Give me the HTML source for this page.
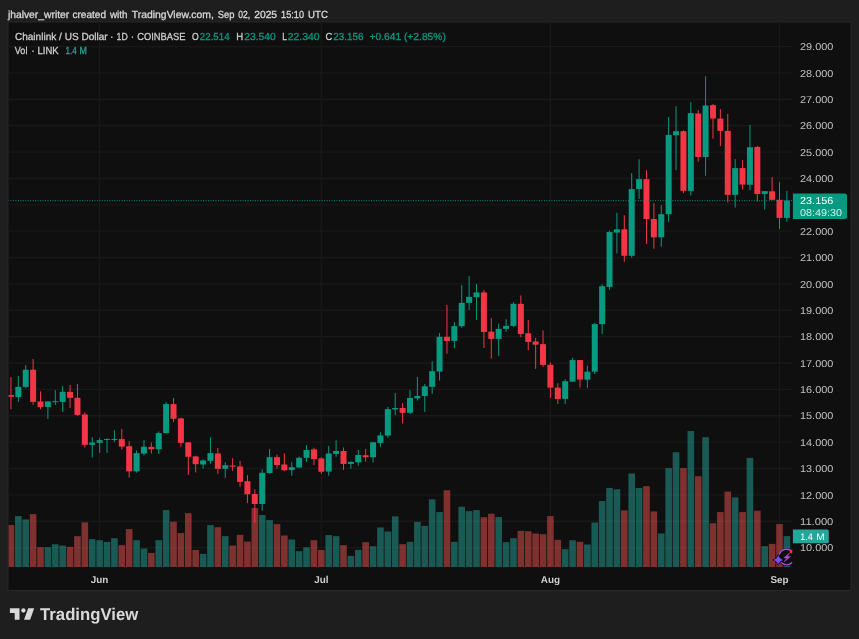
<!DOCTYPE html>
<html lang="en"><head><meta charset="utf-8"><title>LINKUSD chart</title>
<style>html,body{margin:0;padding:0;background:#1e1e1e;}body{width:859px;height:639px;overflow:hidden;font-family:"Liberation Sans",Arial,sans-serif;}</style>
</head><body>
<svg width="859" height="639" viewBox="0 0 859 639" style="display:block" text-rendering="geometricPrecision" font-family="Liberation Sans, Arial, sans-serif">
<rect width="859" height="639" fill="#1e1e1e"/>
<rect x="8.0" y="22.0" width="843.0" height="568.5" fill="#0f0f0f" stroke="#272727" stroke-width="1"/>
<g stroke="#191919" stroke-width="1.3">
<line x1="8.5" x2="792.3" y1="547.60" y2="547.60"/>
<line x1="8.5" x2="792.3" y1="521.23" y2="521.23"/>
<line x1="8.5" x2="792.3" y1="494.86" y2="494.86"/>
<line x1="8.5" x2="792.3" y1="468.49" y2="468.49"/>
<line x1="8.5" x2="792.3" y1="442.12" y2="442.12"/>
<line x1="8.5" x2="792.3" y1="415.75" y2="415.75"/>
<line x1="8.5" x2="792.3" y1="389.38" y2="389.38"/>
<line x1="8.5" x2="792.3" y1="363.01" y2="363.01"/>
<line x1="8.5" x2="792.3" y1="336.64" y2="336.64"/>
<line x1="8.5" x2="792.3" y1="310.27" y2="310.27"/>
<line x1="8.5" x2="792.3" y1="283.90" y2="283.90"/>
<line x1="8.5" x2="792.3" y1="257.53" y2="257.53"/>
<line x1="8.5" x2="792.3" y1="231.16" y2="231.16"/>
<line x1="8.5" x2="792.3" y1="204.79" y2="204.79"/>
<line x1="8.5" x2="792.3" y1="178.42" y2="178.42"/>
<line x1="8.5" x2="792.3" y1="152.05" y2="152.05"/>
<line x1="8.5" x2="792.3" y1="125.68" y2="125.68"/>
<line x1="8.5" x2="792.3" y1="99.31" y2="99.31"/>
<line x1="8.5" x2="792.3" y1="72.94" y2="72.94"/>
<line x1="8.5" x2="792.3" y1="46.57" y2="46.57"/>
<line x1="99.62" x2="99.62" y1="22.5" y2="567.0"/>
<line x1="321.32" x2="321.32" y1="22.5" y2="567.0"/>
<line x1="550.41" x2="550.41" y1="22.5" y2="567.0"/>
<line x1="779.50" x2="779.50" y1="22.5" y2="567.0"/>
</g>
<clipPath id="pc"><rect x="8.6" y="22.6" width="783.6999999999999" height="544.4"/></clipPath>
<g clip-path="url(#pc)">
<rect x="7.64" y="525.07" width="6.6" height="41.93" fill="rgba(239,83,80,0.5)"/>
<rect x="15.03" y="516.10" width="6.6" height="50.90" fill="rgba(38,166,154,0.5)"/>
<rect x="22.42" y="519.45" width="6.6" height="47.55" fill="rgba(38,166,154,0.5)"/>
<rect x="29.81" y="514.10" width="6.6" height="52.90" fill="rgba(239,83,80,0.5)"/>
<rect x="37.20" y="547.16" width="6.6" height="19.84" fill="rgba(239,83,80,0.5)"/>
<rect x="44.59" y="547.16" width="6.6" height="19.84" fill="rgba(38,166,154,0.5)"/>
<rect x="51.98" y="544.22" width="6.6" height="22.78" fill="rgba(38,166,154,0.5)"/>
<rect x="59.37" y="545.56" width="6.6" height="21.44" fill="rgba(38,166,154,0.5)"/>
<rect x="66.76" y="546.89" width="6.6" height="20.11" fill="rgba(239,83,80,0.5)"/>
<rect x="74.15" y="536.18" width="6.6" height="30.82" fill="rgba(239,83,80,0.5)"/>
<rect x="81.54" y="522.40" width="6.6" height="44.60" fill="rgba(239,83,80,0.5)"/>
<rect x="88.93" y="539.13" width="6.6" height="27.87" fill="rgba(38,166,154,0.5)"/>
<rect x="96.32" y="540.20" width="6.6" height="26.80" fill="rgba(38,166,154,0.5)"/>
<rect x="103.71" y="541.94" width="6.6" height="25.06" fill="rgba(38,166,154,0.5)"/>
<rect x="111.10" y="538.19" width="6.6" height="28.81" fill="rgba(38,166,154,0.5)"/>
<rect x="118.49" y="545.15" width="6.6" height="21.85" fill="rgba(239,83,80,0.5)"/>
<rect x="125.88" y="529.09" width="6.6" height="37.91" fill="rgba(239,83,80,0.5)"/>
<rect x="133.27" y="540.20" width="6.6" height="26.80" fill="rgba(38,166,154,0.5)"/>
<rect x="140.66" y="548.50" width="6.6" height="18.50" fill="rgba(38,166,154,0.5)"/>
<rect x="148.05" y="552.92" width="6.6" height="14.08" fill="rgba(239,83,80,0.5)"/>
<rect x="155.44" y="540.20" width="6.6" height="26.80" fill="rgba(38,166,154,0.5)"/>
<rect x="162.83" y="510.08" width="6.6" height="56.92" fill="rgba(38,166,154,0.5)"/>
<rect x="170.22" y="521.73" width="6.6" height="45.27" fill="rgba(239,83,80,0.5)"/>
<rect x="177.61" y="533.11" width="6.6" height="33.89" fill="rgba(239,83,80,0.5)"/>
<rect x="185.00" y="513.16" width="6.6" height="53.84" fill="rgba(239,83,80,0.5)"/>
<rect x="192.39" y="549.97" width="6.6" height="17.03" fill="rgba(239,83,80,0.5)"/>
<rect x="199.78" y="553.86" width="6.6" height="13.14" fill="rgba(38,166,154,0.5)"/>
<rect x="207.17" y="525.07" width="6.6" height="41.93" fill="rgba(38,166,154,0.5)"/>
<rect x="214.56" y="527.22" width="6.6" height="39.78" fill="rgba(239,83,80,0.5)"/>
<rect x="221.95" y="536.18" width="6.6" height="30.82" fill="rgba(38,166,154,0.5)"/>
<rect x="229.34" y="545.56" width="6.6" height="21.44" fill="rgba(239,83,80,0.5)"/>
<rect x="236.73" y="534.85" width="6.6" height="32.15" fill="rgba(239,83,80,0.5)"/>
<rect x="244.12" y="541.54" width="6.6" height="25.46" fill="rgba(239,83,80,0.5)"/>
<rect x="251.51" y="508.07" width="6.6" height="58.93" fill="rgba(239,83,80,0.5)"/>
<rect x="258.90" y="515.03" width="6.6" height="51.97" fill="rgba(38,166,154,0.5)"/>
<rect x="266.29" y="520.12" width="6.6" height="46.88" fill="rgba(38,166,154,0.5)"/>
<rect x="273.68" y="524.14" width="6.6" height="42.86" fill="rgba(239,83,80,0.5)"/>
<rect x="281.07" y="535.52" width="6.6" height="31.48" fill="rgba(239,83,80,0.5)"/>
<rect x="288.46" y="539.53" width="6.6" height="27.47" fill="rgba(38,166,154,0.5)"/>
<rect x="295.85" y="551.18" width="6.6" height="15.82" fill="rgba(38,166,154,0.5)"/>
<rect x="303.24" y="547.30" width="6.6" height="19.70" fill="rgba(38,166,154,0.5)"/>
<rect x="310.63" y="540.20" width="6.6" height="26.80" fill="rgba(239,83,80,0.5)"/>
<rect x="318.02" y="549.97" width="6.6" height="17.03" fill="rgba(239,83,80,0.5)"/>
<rect x="325.41" y="535.11" width="6.6" height="31.89" fill="rgba(38,166,154,0.5)"/>
<rect x="332.80" y="536.18" width="6.6" height="30.82" fill="rgba(38,166,154,0.5)"/>
<rect x="340.19" y="545.15" width="6.6" height="21.85" fill="rgba(239,83,80,0.5)"/>
<rect x="347.58" y="555.86" width="6.6" height="11.14" fill="rgba(38,166,154,0.5)"/>
<rect x="354.97" y="549.84" width="6.6" height="17.16" fill="rgba(38,166,154,0.5)"/>
<rect x="362.36" y="542.21" width="6.6" height="24.79" fill="rgba(239,83,80,0.5)"/>
<rect x="369.75" y="546.22" width="6.6" height="20.78" fill="rgba(38,166,154,0.5)"/>
<rect x="377.14" y="527.48" width="6.6" height="39.52" fill="rgba(38,166,154,0.5)"/>
<rect x="384.53" y="531.50" width="6.6" height="35.50" fill="rgba(38,166,154,0.5)"/>
<rect x="391.92" y="516.37" width="6.6" height="50.63" fill="rgba(38,166,154,0.5)"/>
<rect x="399.31" y="544.22" width="6.6" height="22.78" fill="rgba(239,83,80,0.5)"/>
<rect x="406.70" y="541.81" width="6.6" height="25.19" fill="rgba(38,166,154,0.5)"/>
<rect x="414.09" y="521.86" width="6.6" height="45.14" fill="rgba(38,166,154,0.5)"/>
<rect x="421.48" y="525.88" width="6.6" height="41.12" fill="rgba(38,166,154,0.5)"/>
<rect x="428.87" y="499.37" width="6.6" height="67.63" fill="rgba(38,166,154,0.5)"/>
<rect x="436.26" y="512.09" width="6.6" height="54.91" fill="rgba(38,166,154,0.5)"/>
<rect x="443.65" y="490.20" width="6.6" height="76.80" fill="rgba(239,83,80,0.5)"/>
<rect x="451.04" y="541.81" width="6.6" height="25.19" fill="rgba(38,166,154,0.5)"/>
<rect x="458.43" y="506.73" width="6.6" height="60.27" fill="rgba(38,166,154,0.5)"/>
<rect x="465.82" y="511.15" width="6.6" height="55.85" fill="rgba(38,166,154,0.5)"/>
<rect x="473.21" y="510.08" width="6.6" height="56.92" fill="rgba(38,166,154,0.5)"/>
<rect x="480.60" y="517.18" width="6.6" height="49.82" fill="rgba(239,83,80,0.5)"/>
<rect x="487.99" y="513.69" width="6.6" height="53.31" fill="rgba(239,83,80,0.5)"/>
<rect x="495.38" y="517.04" width="6.6" height="49.96" fill="rgba(38,166,154,0.5)"/>
<rect x="502.77" y="542.21" width="6.6" height="24.79" fill="rgba(38,166,154,0.5)"/>
<rect x="510.16" y="538.19" width="6.6" height="28.81" fill="rgba(38,166,154,0.5)"/>
<rect x="517.55" y="530.83" width="6.6" height="36.17" fill="rgba(239,83,80,0.5)"/>
<rect x="524.94" y="531.23" width="6.6" height="35.77" fill="rgba(239,83,80,0.5)"/>
<rect x="532.33" y="533.51" width="6.6" height="33.49" fill="rgba(239,83,80,0.5)"/>
<rect x="539.72" y="534.18" width="6.6" height="32.82" fill="rgba(239,83,80,0.5)"/>
<rect x="547.11" y="516.10" width="6.6" height="50.90" fill="rgba(239,83,80,0.5)"/>
<rect x="554.50" y="539.80" width="6.6" height="27.20" fill="rgba(239,83,80,0.5)"/>
<rect x="561.89" y="549.17" width="6.6" height="17.83" fill="rgba(38,166,154,0.5)"/>
<rect x="569.28" y="540.20" width="6.6" height="26.80" fill="rgba(38,166,154,0.5)"/>
<rect x="576.67" y="541.81" width="6.6" height="25.19" fill="rgba(239,83,80,0.5)"/>
<rect x="584.06" y="544.48" width="6.6" height="22.52" fill="rgba(38,166,154,0.5)"/>
<rect x="591.45" y="522.53" width="6.6" height="44.47" fill="rgba(38,166,154,0.5)"/>
<rect x="598.84" y="501.11" width="6.6" height="65.89" fill="rgba(38,166,154,0.5)"/>
<rect x="606.23" y="487.92" width="6.6" height="79.08" fill="rgba(38,166,154,0.5)"/>
<rect x="613.62" y="489.26" width="6.6" height="77.74" fill="rgba(38,166,154,0.5)"/>
<rect x="621.01" y="510.35" width="6.6" height="56.65" fill="rgba(239,83,80,0.5)"/>
<rect x="628.40" y="473.46" width="6.6" height="93.54" fill="rgba(38,166,154,0.5)"/>
<rect x="635.79" y="487.92" width="6.6" height="79.08" fill="rgba(38,166,154,0.5)"/>
<rect x="643.18" y="486.18" width="6.6" height="80.82" fill="rgba(239,83,80,0.5)"/>
<rect x="650.57" y="511.42" width="6.6" height="55.58" fill="rgba(239,83,80,0.5)"/>
<rect x="657.96" y="533.51" width="6.6" height="33.49" fill="rgba(38,166,154,0.5)"/>
<rect x="665.35" y="468.11" width="6.6" height="98.89" fill="rgba(38,166,154,0.5)"/>
<rect x="672.74" y="452.18" width="6.6" height="114.82" fill="rgba(38,166,154,0.5)"/>
<rect x="680.13" y="468.11" width="6.6" height="98.89" fill="rgba(239,83,80,0.5)"/>
<rect x="687.52" y="431.02" width="6.6" height="135.98" fill="rgba(38,166,154,0.5)"/>
<rect x="694.91" y="476.22" width="6.6" height="90.78" fill="rgba(239,83,80,0.5)"/>
<rect x="702.30" y="437.14" width="6.6" height="129.86" fill="rgba(38,166,154,0.5)"/>
<rect x="709.69" y="523.20" width="6.6" height="43.80" fill="rgba(239,83,80,0.5)"/>
<rect x="717.08" y="512.09" width="6.6" height="54.91" fill="rgba(239,83,80,0.5)"/>
<rect x="724.47" y="491.61" width="6.6" height="75.39" fill="rgba(239,83,80,0.5)"/>
<rect x="731.86" y="497.36" width="6.6" height="69.64" fill="rgba(38,166,154,0.5)"/>
<rect x="739.25" y="512.09" width="6.6" height="54.91" fill="rgba(239,83,80,0.5)"/>
<rect x="746.64" y="457.88" width="6.6" height="109.12" fill="rgba(38,166,154,0.5)"/>
<rect x="754.03" y="510.71" width="6.6" height="56.29" fill="rgba(239,83,80,0.5)"/>
<rect x="761.42" y="546.18" width="6.6" height="20.82" fill="rgba(38,166,154,0.5)"/>
<rect x="768.81" y="543.91" width="6.6" height="23.09" fill="rgba(239,83,80,0.5)"/>
<rect x="776.20" y="524.10" width="6.6" height="42.90" fill="rgba(239,83,80,0.5)"/>
<rect x="783.59" y="536.14" width="6.6" height="30.86" fill="rgba(38,166,154,0.5)"/>
<rect x="10.44" y="377.09" width="1" height="32.13" fill="#f23645"/>
<rect x="7.94" y="395.03" width="6.0" height="1.74" fill="#f23645"/>
<rect x="17.83" y="376.02" width="1" height="25.84" fill="#089981"/>
<rect x="15.33" y="386.86" width="6.0" height="10.17" fill="#089981"/>
<rect x="25.22" y="365.04" width="1" height="23.16" fill="#089981"/>
<rect x="22.72" y="369.73" width="6.0" height="17.14" fill="#089981"/>
<rect x="32.61" y="359.02" width="1" height="45.78" fill="#f23645"/>
<rect x="30.11" y="369.73" width="6.0" height="32.13" fill="#f23645"/>
<rect x="40.00" y="391.41" width="1" height="17.80" fill="#f23645"/>
<rect x="37.50" y="401.45" width="6.0" height="5.49" fill="#f23645"/>
<rect x="47.39" y="401.18" width="1" height="17.80" fill="#089981"/>
<rect x="44.89" y="401.45" width="6.0" height="5.49" fill="#089981"/>
<rect x="54.78" y="390.21" width="1" height="14.73" fill="#089981"/>
<rect x="52.28" y="401.18" width="6.0" height="1.00" fill="#089981"/>
<rect x="62.17" y="386.06" width="1" height="25.84" fill="#089981"/>
<rect x="59.67" y="391.81" width="6.0" height="10.04" fill="#089981"/>
<rect x="69.56" y="384.99" width="1" height="22.89" fill="#f23645"/>
<rect x="67.06" y="391.81" width="6.0" height="6.02" fill="#f23645"/>
<rect x="76.95" y="383.92" width="1" height="31.99" fill="#f23645"/>
<rect x="74.45" y="397.84" width="6.0" height="17.14" fill="#f23645"/>
<rect x="84.34" y="412.32" width="1" height="35.21" fill="#f23645"/>
<rect x="81.84" y="414.46" width="6.0" height="30.39" fill="#f23645"/>
<rect x="91.73" y="437.22" width="1" height="20.35" fill="#089981"/>
<rect x="89.23" y="442.57" width="6.0" height="2.28" fill="#089981"/>
<rect x="99.12" y="438.15" width="1" height="14.73" fill="#089981"/>
<rect x="96.62" y="440.16" width="6.0" height="2.68" fill="#089981"/>
<rect x="106.51" y="438.42" width="1" height="14.46" fill="#089981"/>
<rect x="104.01" y="438.96" width="6.0" height="1.00" fill="#089981"/>
<rect x="113.90" y="430.12" width="1" height="11.65" fill="#089981"/>
<rect x="111.40" y="438.96" width="6.0" height="1.00" fill="#089981"/>
<rect x="121.29" y="428.92" width="1" height="20.62" fill="#f23645"/>
<rect x="118.79" y="439.09" width="6.0" height="7.50" fill="#f23645"/>
<rect x="128.68" y="441.23" width="1" height="36.41" fill="#f23645"/>
<rect x="126.18" y="446.18" width="6.0" height="25.17" fill="#f23645"/>
<rect x="136.07" y="450.47" width="1" height="22.22" fill="#089981"/>
<rect x="133.57" y="453.15" width="6.0" height="18.21" fill="#089981"/>
<rect x="143.46" y="439.89" width="1" height="15.39" fill="#089981"/>
<rect x="140.96" y="446.72" width="6.0" height="6.83" fill="#089981"/>
<rect x="150.85" y="442.61" width="1" height="10.98" fill="#f23645"/>
<rect x="148.35" y="446.89" width="6.0" height="2.41" fill="#f23645"/>
<rect x="158.24" y="431.50" width="1" height="22.49" fill="#089981"/>
<rect x="155.74" y="433.11" width="6.0" height="16.20" fill="#089981"/>
<rect x="165.63" y="402.05" width="1" height="31.06" fill="#089981"/>
<rect x="163.13" y="404.06" width="6.0" height="29.05" fill="#089981"/>
<rect x="173.02" y="398.03" width="1" height="24.10" fill="#f23645"/>
<rect x="170.52" y="404.06" width="6.0" height="14.73" fill="#f23645"/>
<rect x="180.41" y="417.71" width="1" height="29.18" fill="#f23645"/>
<rect x="177.91" y="418.38" width="6.0" height="24.50" fill="#f23645"/>
<rect x="187.80" y="441.96" width="1" height="32.93" fill="#f23645"/>
<rect x="185.30" y="442.36" width="6.0" height="14.46" fill="#f23645"/>
<rect x="195.19" y="455.75" width="1" height="16.73" fill="#f23645"/>
<rect x="192.69" y="456.42" width="6.0" height="7.76" fill="#f23645"/>
<rect x="202.58" y="459.50" width="1" height="8.97" fill="#089981"/>
<rect x="200.08" y="460.44" width="6.0" height="4.02" fill="#089981"/>
<rect x="209.97" y="437.41" width="1" height="26.37" fill="#089981"/>
<rect x="207.47" y="453.07" width="6.0" height="7.76" fill="#089981"/>
<rect x="217.36" y="447.99" width="1" height="25.84" fill="#f23645"/>
<rect x="214.86" y="453.47" width="6.0" height="15.39" fill="#f23645"/>
<rect x="224.75" y="462.18" width="1" height="15.66" fill="#089981"/>
<rect x="222.25" y="465.25" width="6.0" height="3.48" fill="#089981"/>
<rect x="232.14" y="458.16" width="1" height="12.72" fill="#f23645"/>
<rect x="229.64" y="465.52" width="6.0" height="1.20" fill="#f23645"/>
<rect x="239.53" y="460.84" width="1" height="25.97" fill="#f23645"/>
<rect x="237.03" y="466.46" width="6.0" height="15.39" fill="#f23645"/>
<rect x="246.92" y="475.07" width="1" height="27.84" fill="#f23645"/>
<rect x="244.42" y="481.23" width="6.0" height="12.99" fill="#f23645"/>
<rect x="254.31" y="489.26" width="1" height="33.73" fill="#f23645"/>
<rect x="251.81" y="493.95" width="6.0" height="10.04" fill="#f23645"/>
<rect x="261.70" y="469.45" width="1" height="41.23" fill="#089981"/>
<rect x="259.20" y="472.80" width="6.0" height="31.19" fill="#089981"/>
<rect x="269.09" y="449.10" width="1" height="24.63" fill="#089981"/>
<rect x="266.59" y="457.14" width="6.0" height="15.93" fill="#089981"/>
<rect x="276.48" y="454.73" width="1" height="14.06" fill="#f23645"/>
<rect x="273.98" y="457.14" width="6.0" height="7.90" fill="#f23645"/>
<rect x="283.87" y="453.39" width="1" height="17.80" fill="#f23645"/>
<rect x="281.37" y="464.50" width="6.0" height="5.76" fill="#f23645"/>
<rect x="291.26" y="462.09" width="1" height="13.65" fill="#089981"/>
<rect x="288.76" y="467.18" width="6.0" height="2.95" fill="#089981"/>
<rect x="298.65" y="456.47" width="1" height="11.65" fill="#089981"/>
<rect x="296.15" y="457.80" width="6.0" height="9.64" fill="#089981"/>
<rect x="306.04" y="445.09" width="1" height="16.73" fill="#089981"/>
<rect x="303.54" y="450.04" width="6.0" height="7.76" fill="#089981"/>
<rect x="313.43" y="447.76" width="1" height="17.27" fill="#f23645"/>
<rect x="310.93" y="449.37" width="6.0" height="9.77" fill="#f23645"/>
<rect x="320.82" y="457.14" width="1" height="16.60" fill="#f23645"/>
<rect x="318.32" y="458.47" width="6.0" height="13.25" fill="#f23645"/>
<rect x="328.21" y="445.87" width="1" height="29.85" fill="#089981"/>
<rect x="325.71" y="453.50" width="6.0" height="18.07" fill="#089981"/>
<rect x="335.60" y="440.11" width="1" height="16.73" fill="#089981"/>
<rect x="333.10" y="450.96" width="6.0" height="2.95" fill="#089981"/>
<rect x="342.99" y="447.48" width="1" height="22.49" fill="#f23645"/>
<rect x="340.49" y="450.96" width="6.0" height="12.99" fill="#f23645"/>
<rect x="350.38" y="461.27" width="1" height="7.36" fill="#089981"/>
<rect x="347.88" y="461.93" width="6.0" height="2.01" fill="#089981"/>
<rect x="357.77" y="449.89" width="1" height="15.80" fill="#089981"/>
<rect x="355.27" y="454.97" width="6.0" height="7.36" fill="#089981"/>
<rect x="365.16" y="448.95" width="1" height="12.72" fill="#f23645"/>
<rect x="362.66" y="455.24" width="6.0" height="2.01" fill="#f23645"/>
<rect x="372.55" y="441.85" width="1" height="20.75" fill="#089981"/>
<rect x="370.05" y="442.26" width="6.0" height="14.99" fill="#089981"/>
<rect x="379.94" y="432.22" width="1" height="14.59" fill="#089981"/>
<rect x="377.44" y="435.43" width="6.0" height="7.50" fill="#089981"/>
<rect x="387.33" y="406.78" width="1" height="31.06" fill="#089981"/>
<rect x="384.83" y="409.06" width="6.0" height="26.51" fill="#089981"/>
<rect x="394.72" y="393.01" width="1" height="22.07" fill="#089981"/>
<rect x="392.22" y="407.99" width="6.0" height="1.47" fill="#089981"/>
<rect x="402.11" y="403.03" width="1" height="20.48" fill="#f23645"/>
<rect x="399.61" y="407.99" width="6.0" height="4.82" fill="#f23645"/>
<rect x="409.50" y="390.19" width="1" height="23.82" fill="#089981"/>
<rect x="407.00" y="397.95" width="6.0" height="14.86" fill="#089981"/>
<rect x="416.89" y="376.94" width="1" height="23.69" fill="#089981"/>
<rect x="414.39" y="395.95" width="6.0" height="2.41" fill="#089981"/>
<rect x="424.28" y="383.90" width="1" height="28.10" fill="#089981"/>
<rect x="421.78" y="386.31" width="6.0" height="9.64" fill="#089981"/>
<rect x="431.67" y="361.41" width="1" height="32.53" fill="#089981"/>
<rect x="429.17" y="371.18" width="6.0" height="15.66" fill="#089981"/>
<rect x="439.06" y="333.03" width="1" height="47.52" fill="#089981"/>
<rect x="436.56" y="336.78" width="6.0" height="34.81" fill="#089981"/>
<rect x="446.45" y="304.89" width="1" height="48.89" fill="#f23645"/>
<rect x="443.95" y="336.78" width="6.0" height="4.28" fill="#f23645"/>
<rect x="453.84" y="322.16" width="1" height="26.10" fill="#089981"/>
<rect x="451.34" y="326.18" width="6.0" height="14.73" fill="#089981"/>
<rect x="461.23" y="285.08" width="1" height="42.84" fill="#089981"/>
<rect x="458.73" y="302.88" width="6.0" height="23.29" fill="#089981"/>
<rect x="468.62" y="276.11" width="1" height="33.73" fill="#089981"/>
<rect x="466.12" y="296.86" width="6.0" height="6.02" fill="#089981"/>
<rect x="476.01" y="284.14" width="1" height="35.74" fill="#089981"/>
<rect x="473.51" y="292.44" width="6.0" height="4.69" fill="#089981"/>
<rect x="483.40" y="290.03" width="1" height="57.97" fill="#f23645"/>
<rect x="480.90" y="292.44" width="6.0" height="39.49" fill="#f23645"/>
<rect x="490.79" y="318.15" width="1" height="40.32" fill="#f23645"/>
<rect x="488.29" y="331.67" width="6.0" height="7.23" fill="#f23645"/>
<rect x="498.18" y="323.50" width="1" height="32.29" fill="#089981"/>
<rect x="495.68" y="328.86" width="6.0" height="10.04" fill="#089981"/>
<rect x="505.57" y="319.22" width="1" height="12.72" fill="#089981"/>
<rect x="503.07" y="325.91" width="6.0" height="2.95" fill="#089981"/>
<rect x="512.96" y="302.22" width="1" height="24.77" fill="#089981"/>
<rect x="510.46" y="303.82" width="6.0" height="22.09" fill="#089981"/>
<rect x="520.35" y="295.39" width="1" height="41.90" fill="#f23645"/>
<rect x="517.85" y="303.82" width="6.0" height="30.12" fill="#f23645"/>
<rect x="527.74" y="319.89" width="1" height="30.28" fill="#f23645"/>
<rect x="525.24" y="333.27" width="6.0" height="8.70" fill="#f23645"/>
<rect x="535.13" y="337.99" width="1" height="30.92" fill="#f23645"/>
<rect x="532.63" y="341.47" width="6.0" height="3.21" fill="#f23645"/>
<rect x="542.52" y="330.35" width="1" height="36.55" fill="#f23645"/>
<rect x="540.02" y="344.14" width="6.0" height="20.75" fill="#f23645"/>
<rect x="549.91" y="362.48" width="1" height="35.48" fill="#f23645"/>
<rect x="547.41" y="364.76" width="6.0" height="22.89" fill="#f23645"/>
<rect x="557.30" y="383.23" width="1" height="20.75" fill="#f23645"/>
<rect x="554.80" y="387.65" width="6.0" height="11.38" fill="#f23645"/>
<rect x="564.69" y="379.22" width="1" height="24.77" fill="#089981"/>
<rect x="562.19" y="381.22" width="6.0" height="17.67" fill="#089981"/>
<rect x="572.08" y="357.80" width="1" height="24.10" fill="#089981"/>
<rect x="569.58" y="360.07" width="6.0" height="21.55" fill="#089981"/>
<rect x="579.47" y="360.07" width="1" height="27.58" fill="#f23645"/>
<rect x="576.97" y="360.07" width="6.0" height="19.54" fill="#f23645"/>
<rect x="586.86" y="365.64" width="1" height="22.36" fill="#089981"/>
<rect x="584.36" y="371.67" width="6.0" height="8.03" fill="#089981"/>
<rect x="594.25" y="322.80" width="1" height="51.14" fill="#089981"/>
<rect x="591.75" y="324.14" width="6.0" height="47.52" fill="#089981"/>
<rect x="601.64" y="284.22" width="1" height="49.83" fill="#089981"/>
<rect x="599.14" y="286.22" width="6.0" height="37.92" fill="#089981"/>
<rect x="609.03" y="230.67" width="1" height="59.17" fill="#089981"/>
<rect x="606.53" y="232.01" width="6.0" height="54.89" fill="#089981"/>
<rect x="616.42" y="212.80" width="1" height="40.60" fill="#089981"/>
<rect x="613.92" y="229.30" width="6.0" height="3.30" fill="#089981"/>
<rect x="623.81" y="215.20" width="1" height="46.50" fill="#f23645"/>
<rect x="621.31" y="229.30" width="6.0" height="26.50" fill="#f23645"/>
<rect x="631.20" y="173.10" width="1" height="84.60" fill="#089981"/>
<rect x="628.70" y="189.10" width="6.0" height="66.70" fill="#089981"/>
<rect x="638.59" y="159.30" width="1" height="39.60" fill="#089981"/>
<rect x="636.09" y="179.10" width="6.0" height="10.00" fill="#089981"/>
<rect x="645.98" y="170.10" width="1" height="73.70" fill="#f23645"/>
<rect x="643.48" y="179.10" width="6.0" height="39.90" fill="#f23645"/>
<rect x="653.37" y="203.20" width="1" height="45.50" fill="#f23645"/>
<rect x="650.87" y="219.00" width="6.0" height="18.30" fill="#f23645"/>
<rect x="660.76" y="205.20" width="1" height="41.50" fill="#089981"/>
<rect x="658.26" y="214.20" width="6.0" height="23.10" fill="#089981"/>
<rect x="668.15" y="116.90" width="1" height="104.80" fill="#089981"/>
<rect x="665.65" y="134.90" width="6.0" height="79.30" fill="#089981"/>
<rect x="675.54" y="106.10" width="1" height="64.00" fill="#089981"/>
<rect x="673.04" y="131.20" width="6.0" height="4.00" fill="#089981"/>
<rect x="682.93" y="130.20" width="1" height="63.00" fill="#f23645"/>
<rect x="680.43" y="131.20" width="6.0" height="59.70" fill="#f23645"/>
<rect x="690.32" y="102.10" width="1" height="93.50" fill="#089981"/>
<rect x="687.82" y="113.10" width="6.0" height="77.80" fill="#089981"/>
<rect x="697.71" y="109.90" width="1" height="51.80" fill="#f23645"/>
<rect x="695.21" y="113.50" width="6.0" height="43.50" fill="#f23645"/>
<rect x="705.10" y="76.30" width="1" height="99.50" fill="#089981"/>
<rect x="702.60" y="105.50" width="6.0" height="51.50" fill="#089981"/>
<rect x="712.49" y="104.10" width="1" height="34.60" fill="#f23645"/>
<rect x="709.99" y="105.10" width="6.0" height="13.40" fill="#f23645"/>
<rect x="719.88" y="109.10" width="1" height="36.90" fill="#f23645"/>
<rect x="717.38" y="118.60" width="6.0" height="12.30" fill="#f23645"/>
<rect x="727.27" y="113.80" width="1" height="88.70" fill="#f23645"/>
<rect x="724.77" y="130.90" width="6.0" height="64.00" fill="#f23645"/>
<rect x="734.66" y="159.10" width="1" height="48.50" fill="#089981"/>
<rect x="732.16" y="168.10" width="6.0" height="26.80" fill="#089981"/>
<rect x="742.05" y="160.10" width="1" height="29.40" fill="#f23645"/>
<rect x="739.55" y="168.10" width="6.0" height="16.50" fill="#f23645"/>
<rect x="749.44" y="124.60" width="1" height="65.60" fill="#089981"/>
<rect x="746.94" y="147.30" width="6.0" height="37.50" fill="#089981"/>
<rect x="756.83" y="146.00" width="1" height="55.60" fill="#f23645"/>
<rect x="754.33" y="147.00" width="6.0" height="47.00" fill="#f23645"/>
<rect x="764.22" y="191.10" width="1" height="18.50" fill="#089981"/>
<rect x="761.72" y="191.10" width="6.0" height="2.90" fill="#089981"/>
<rect x="771.61" y="177.10" width="1" height="22.70" fill="#f23645"/>
<rect x="769.11" y="191.30" width="6.0" height="8.50" fill="#f23645"/>
<rect x="779.00" y="182.20" width="1" height="46.70" fill="#f23645"/>
<rect x="776.50" y="199.80" width="6.0" height="18.10" fill="#f23645"/>
<rect x="786.39" y="190.90" width="1" height="30.80" fill="#089981"/>
<rect x="783.89" y="200.50" width="6.0" height="17.40" fill="#089981"/>
<line x1="8.0" x2="792.3" y1="200.68" y2="200.68" stroke="#089981" stroke-width="1" stroke-dasharray="0.95 1.52"/>
<g id="icon">
<circle cx="786.8" cy="557.1" r="8.9" fill="#0f0f0f"/>
<path d="M779.2 554.3 A7.6 7.6 0 0 1 790.6 550.6" fill="none" stroke="#b14fd0" stroke-width="1.35" stroke-linecap="round"/>
<path d="M792.2 562.6 A7.6 7.6 0 0 1 781.3 562.4" fill="none" stroke="#b14fd0" stroke-width="1.35" stroke-linecap="round"/>
<path d="M790.0 552.6 L783.8 557.9 L786.9 557.9 L784.0 562.0 L790.6 556.5 L787.4 556.5 Z" fill="#b14fd0" stroke="#b14fd0" stroke-width="0.45" stroke-linejoin="round"/>
<path d="M778.3 555.1 Q779.25 559.05 783.1999999999999 560.0 Q779.25 560.95 778.3 564.9 Q777.3499999999999 560.95 773.4 560.0 Q777.3499999999999 559.05 778.3 555.1 Z" fill="#7a4dff" stroke="#0f0f0f" stroke-width="1.4" paint-order="stroke" stroke-linejoin="round"/>
<circle cx="791.7" cy="551.4" r="1.9" fill="#f7363f"/>
</g>
</g>
<g fill="#c2c2c2" font-size="10">
<text x="800" y="551.30" textLength="33.3" lengthAdjust="spacingAndGlyphs">10.000</text>
<text x="800" y="524.93" textLength="33.3" lengthAdjust="spacingAndGlyphs">11.000</text>
<text x="800" y="498.56" textLength="33.3" lengthAdjust="spacingAndGlyphs">12.000</text>
<text x="800" y="472.19" textLength="33.3" lengthAdjust="spacingAndGlyphs">13.000</text>
<text x="800" y="445.82" textLength="33.3" lengthAdjust="spacingAndGlyphs">14.000</text>
<text x="800" y="419.45" textLength="33.3" lengthAdjust="spacingAndGlyphs">15.000</text>
<text x="800" y="393.08" textLength="33.3" lengthAdjust="spacingAndGlyphs">16.000</text>
<text x="800" y="366.71" textLength="33.3" lengthAdjust="spacingAndGlyphs">17.000</text>
<text x="800" y="340.34" textLength="33.3" lengthAdjust="spacingAndGlyphs">18.000</text>
<text x="800" y="313.97" textLength="33.3" lengthAdjust="spacingAndGlyphs">19.000</text>
<text x="800" y="287.60" textLength="33.3" lengthAdjust="spacingAndGlyphs">20.000</text>
<text x="800" y="261.23" textLength="33.3" lengthAdjust="spacingAndGlyphs">21.000</text>
<text x="800" y="234.86" textLength="33.3" lengthAdjust="spacingAndGlyphs">22.000</text>
<text x="800" y="208.49" textLength="33.3" lengthAdjust="spacingAndGlyphs">23.000</text>
<text x="800" y="182.12" textLength="33.3" lengthAdjust="spacingAndGlyphs">24.000</text>
<text x="800" y="155.75" textLength="33.3" lengthAdjust="spacingAndGlyphs">25.000</text>
<text x="800" y="129.38" textLength="33.3" lengthAdjust="spacingAndGlyphs">26.000</text>
<text x="800" y="103.01" textLength="33.3" lengthAdjust="spacingAndGlyphs">27.000</text>
<text x="800" y="76.64" textLength="33.3" lengthAdjust="spacingAndGlyphs">28.000</text>
<text x="800" y="50.27" textLength="33.3" lengthAdjust="spacingAndGlyphs">29.000</text>
</g>
<path d="M793.4 193.4 H844.6 Q847.1 193.4 847.1 195.9 V216.5 Q847.1 219 844.6 219 H793.4 Q792.9 219 792.9 218.5 V193.9 Q792.9 193.4 793.4 193.4 Z" fill="#089981"/>
<text x="800" y="204.2" font-size="10" fill="#ffffff" textLength="33.3" lengthAdjust="spacingAndGlyphs">23.156</text>
<text x="800" y="215.9" font-size="10" fill="#cfeee7" textLength="42.1" lengthAdjust="spacingAndGlyphs">08:49:30</text>
<path d="M792.9 529.4 H827.3 Q828.8 529.4 828.8 530.9 V541.7 Q828.8 543.2 827.3 543.2 H792.9 Z" fill="#26a69a"/>
<text y="539.7" font-size="9.5" fill="#ffffff"><tspan x="800.3" textLength="12.6" lengthAdjust="spacingAndGlyphs">1.4</tspan> <tspan x="816.2" textLength="8.4" lengthAdjust="spacingAndGlyphs">M</tspan></text>
<g fill="#cfcfcf" font-size="9.9" text-anchor="middle" font-weight="bold">
<text x="99.62" y="583.1">Jun</text>
<text x="321.32" y="583.1">Jul</text>
<text x="550.41" y="583.1">Aug</text>
<text x="779.50" y="583.1">Sep</text>
</g>
<text y="17.7" font-size="10.3" fill="#d8d8d8" stroke="#d8d8d8" stroke-width="0.3"><tspan x="7.9" textLength="61.4" lengthAdjust="spacingAndGlyphs">jhalver_writer</tspan> <tspan x="72.4" textLength="33.7" lengthAdjust="spacingAndGlyphs">created</tspan> <tspan x="110" textLength="17.5" lengthAdjust="spacingAndGlyphs">with</tspan> <tspan x="131.8" textLength="82.0" lengthAdjust="spacingAndGlyphs">TradingView.com,</tspan> <tspan x="217.7" textLength="16.7" lengthAdjust="spacingAndGlyphs">Sep</tspan> <tspan x="238.3" textLength="11.9" lengthAdjust="spacingAndGlyphs">02,</tspan> <tspan x="254.2" textLength="22.9" lengthAdjust="spacingAndGlyphs">2025</tspan> <tspan x="281.1" textLength="22.9" lengthAdjust="spacingAndGlyphs">15:10</tspan> <tspan x="308" textLength="19.9" lengthAdjust="spacingAndGlyphs">UTC</tspan></text>
<text y="40.2" font-size="10.2" fill="#d0d0d0" stroke="#d0d0d0" stroke-width="0.28"><tspan x="14.9" textLength="92.8" lengthAdjust="spacingAndGlyphs">Chainlink / US Dollar</tspan> <tspan x="110.0">·</tspan> <tspan x="116.6" textLength="11.2" lengthAdjust="spacingAndGlyphs">1D</tspan> <tspan x="130.7">·</tspan> <tspan x="137.2" textLength="48.2" lengthAdjust="spacingAndGlyphs">COINBASE</tspan> <tspan x="192.1" textLength="6.7" lengthAdjust="spacingAndGlyphs">O</tspan><tspan x="199.8" textLength="29.8" lengthAdjust="spacingAndGlyphs" fill="#089981" stroke="#089981">22.514</tspan> <tspan x="236.3" textLength="6.9" lengthAdjust="spacingAndGlyphs">H</tspan><tspan x="244.2" textLength="31.5" lengthAdjust="spacingAndGlyphs" fill="#089981" stroke="#089981">23.540</tspan> <tspan x="282.3" textLength="4.7" lengthAdjust="spacingAndGlyphs">L</tspan><tspan x="287.8" textLength="31.8" lengthAdjust="spacingAndGlyphs" fill="#089981" stroke="#089981">22.340</tspan> <tspan x="325.6" textLength="6.8" lengthAdjust="spacingAndGlyphs">C</tspan><tspan x="333.2" textLength="30.2" lengthAdjust="spacingAndGlyphs" fill="#089981" stroke="#089981">23.156</tspan> <tspan x="369.5" textLength="76.3" lengthAdjust="spacingAndGlyphs" fill="#089981" stroke="#089981">+0.641 (+2.85%)</tspan></text>
<text y="53.9" font-size="10.2" fill="#d0d0d0" stroke="#d0d0d0" stroke-width="0.28"><tspan x="14.8" textLength="12.6" lengthAdjust="spacingAndGlyphs">Vol</tspan> <tspan x="31.2">·</tspan> <tspan x="37.6" textLength="21.1" lengthAdjust="spacingAndGlyphs">LINK</tspan> <tspan x="65.6" textLength="11.2" lengthAdjust="spacingAndGlyphs" fill="#26a69a" stroke="#26a69a">1.4</tspan> <tspan x="79.6" textLength="7.4" lengthAdjust="spacingAndGlyphs" fill="#26a69a" stroke="#26a69a">M</tspan></text>
<g fill="#d9d9d9">
<path d="M9.9 608.3 H19.5 V619.8 H14.7 V612.9 H9.9 Z"/>
<circle cx="23.4" cy="610.5" r="2.15"/>
<path d="M28.2 608.3 H34.2 L30.1 619.8 H24.0 Z"/>
<text x="40.0" y="619.9" font-size="17" font-weight="bold" textLength="98.3" lengthAdjust="spacingAndGlyphs">TradingView</text>
</g>
</svg>
</body></html>
